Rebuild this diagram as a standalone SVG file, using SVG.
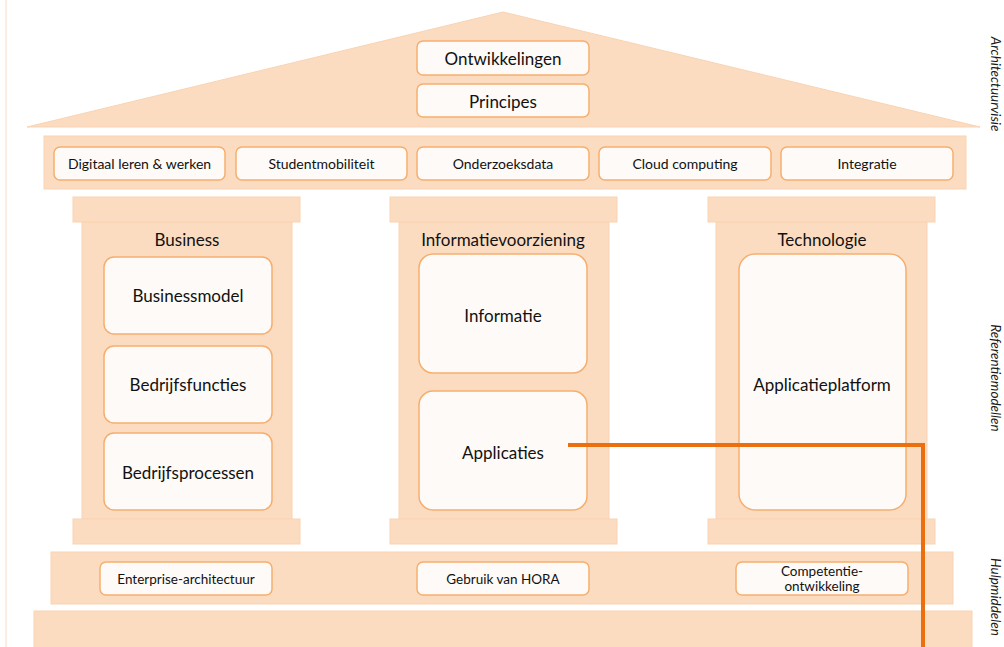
<svg xmlns="http://www.w3.org/2000/svg" width="1004" height="647" viewBox="0 0 1004 647">
<style>
.p{fill:#FBDCC1;stroke:#F9D3B2;stroke-width:1}
.b{fill:#FDFAF8;stroke:#F6AE6E;stroke-width:1.5}
.t{font-family:Lato,"Open Sans","Liberation Sans",sans-serif;fill:#111111;text-anchor:middle;dominant-baseline:central}
.l{font-size:17px}
.s{font-size:14px}
.x{font-size:13.5px}
.v{font-family:Lato,"Open Sans","Liberation Sans",sans-serif;font-style:italic;font-size:13.5px;fill:#1a1a1a;text-anchor:middle;dominant-baseline:central}
</style>
<rect width="1004" height="647" fill="#ffffff"/>
<line x1="6" y1="0" x2="6" y2="647" stroke="#FCE3D0" stroke-width="1.2"/>
<g id="roof">
<polygon class="p" points="27,127 503,12 980,127"/>
</g>
<g id="ontwikkelingen"><rect class="b" x="417" y="41" width="172" height="34" rx="6"/><text class="t l" x="503" y="58">Ontwikkelingen</text></g>
<g id="principes"><rect class="b" x="417" y="84" width="172" height="33" rx="6"/><text class="t l" x="503" y="101">Principes</text></g>
<g id="band-top"><rect class="p" x="44" y="136" width="922" height="53"/></g>
<g id="digitaal"><rect class="b" x="54" y="147" width="171" height="33" rx="6"/><text class="t s" x="139.5" y="163.5">Digitaal leren &amp; werken</text></g>
<g id="studentmobiliteit"><rect class="b" x="236" y="147" width="171" height="33" rx="6"/><text class="t s" x="321.5" y="163.5">Studentmobiliteit</text></g>
<g id="onderzoeksdata"><rect class="b" x="417" y="147" width="172" height="33" rx="6"/><text class="t s" x="503" y="163.5">Onderzoeksdata</text></g>
<g id="cloud"><rect class="b" x="599" y="147" width="172" height="33" rx="6"/><text class="t s" x="685" y="163.5">Cloud computing</text></g>
<g id="integratie"><rect class="b" x="781" y="147" width="172" height="33" rx="6"/><text class="t s" x="867" y="163.5">Integratie</text></g>
<g id="pillar-business">
<rect class="p" x="82" y="222" width="210" height="297"/>
<rect class="p" x="73" y="197" width="227" height="25"/>
<rect class="p" x="73" y="519" width="227" height="25"/>
<text class="t l" x="187" y="239">Business</text>
</g>
<g id="businessmodel"><rect class="b" x="104" y="257" width="168" height="77" rx="10"/><text class="t l" x="188" y="295.5">Businessmodel</text></g>
<g id="bedrijfsfuncties"><rect class="b" x="104" y="346" width="168" height="77" rx="10"/><text class="t l" x="188" y="384.5">Bedrijfsfuncties</text></g>
<g id="bedrijfsprocessen"><rect class="b" x="104" y="433" width="168" height="77" rx="10"/><text class="t l" x="188" y="472">Bedrijfsprocessen</text></g>
<g id="pillar-info">
<rect class="p" x="399" y="222" width="210" height="297"/>
<rect class="p" x="390" y="197" width="227" height="25"/>
<rect class="p" x="390" y="519" width="227" height="25"/>
<text class="t l" x="503" y="239">Informatievoorziening</text>
</g>
<g id="informatie"><rect class="b" x="419" y="254" width="168" height="119" rx="14"/><text class="t l" x="503" y="315">Informatie</text></g>
<g id="applicaties"><rect class="b" x="419" y="391" width="168" height="119" rx="14"/><text class="t l" x="503" y="452">Applicaties</text></g>
<g id="pillar-tech">
<rect class="p" x="716" y="222" width="211" height="297"/>
<rect class="p" x="708" y="197" width="227" height="25"/>
<rect class="p" x="708" y="519" width="227" height="25"/>
<text class="t l" x="822" y="239">Technologie</text>
</g>
<g id="applicatieplatform"><rect class="b" x="739" y="254" width="167" height="256" rx="16"/><text class="t l" x="822" y="384">Applicatieplatform</text></g>
<g id="band-hulp"><rect class="p" x="51" y="552" width="902" height="52"/></g>
<g id="enterprise"><rect class="b" x="100" y="562" width="172" height="33" rx="6"/><text class="t x" x="186" y="578.5">Enterprise-architectuur</text></g>
<g id="hora"><rect class="b" x="417" y="562" width="172" height="33" rx="6"/><text class="t x" x="503" y="578.5">Gebruik van HORA</text></g>
<g id="competentie"><rect class="b" x="736" y="562" width="172" height="33" rx="6"/><text class="t x" x="822" y="571">Competentie-</text><text class="t x" x="822" y="586">ontwikkeling</text></g>
<g id="band-bottom"><rect class="p" x="34" y="611" width="938" height="40"/></g>
<g id="connectors">
<polyline points="568,445 923,445 923,647" fill="none" stroke="#EB6F0E" stroke-width="4"/>
</g>
<g id="labels">
<text class="v" transform="translate(996,84) rotate(90)">Architectuurvisie</text>
<text class="v" transform="translate(996,378) rotate(90)">Referentiemodellen</text>
<text class="v" transform="translate(996,597) rotate(90)">Hulpmiddelen</text>
</g>
</svg>
